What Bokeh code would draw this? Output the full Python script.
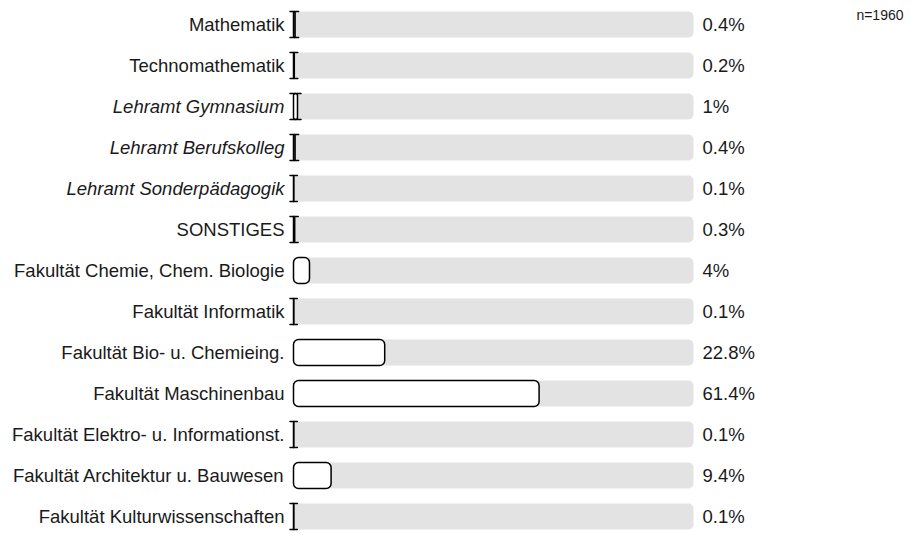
from bokeh.plotting import figure
from bokeh.models import ColumnDataSource, Range1d
from bokeh.core.properties import value
from bokeh.embed import file_html
from bokeh.resources import INLINE

categories = ["Mathematik", "Technomathematik", "Lehramt Gymnasium", "Lehramt Berufskolleg",
              "Lehramt Sonderpädagogik", "SONSTIGES", "Fakultät Chemie, Chem. Biologie",
              "Fakultät Informatik", "Fakultät Bio- u. Chemieing.", "Fakultät Maschinenbau",
              "Fakultät Elektro- u. Informationst.", "Fakultät Architektur u. Bauwesen",
              "Fakultät Kulturwissenschaften"]
values = [0.4, 0.2, 1, 0.4, 0.1, 0.3, 4, 0.1, 22.8, 61.4, 0.1, 9.4, 0.1]
pct_labels = ["0.4%", "0.2%", "1%", "0.4%", "0.1%", "0.3%", "4%", "0.1%", "22.8%", "61.4%",
              "0.1%", "9.4%", "0.1%"]
italic = [False, False, True, True, True, False, False, False, False, False, False, False, False]
n_label = "n=1960"

W, H = 905, 531
PX = 4.0          # pixels per percent
X0 = 293          # pixel where 0% lies
ROW = 41.0        # row spacing in px
Y0 = 24           # pixel center of first row
BAR_PX = 26       # bar thickness in px

idx = list(range(len(categories)))
bh = BAR_PX / ROW
src = ColumnDataSource(dict(
    y=idx, v=values, full=[100] * len(values), cat=categories, pct=pct_labels,
    style=["italic" if it else "normal" for it in italic],
))

# small bars get the little cap strokes at their ends
small = [i for i, v in enumerate(values) if v * PX < 10]
cap_src = ColumnDataSource(dict(
    x0=[-3.5 / PX for i in small] * 2,
    x1=[values[i] + 3.5 / PX for i in small] * 2,
    y=[i - bh / 2 for i in small] + [i + bh / 2 for i in small],
))

p = figure(width=W, height=H, output_backend="svg", toolbar_location=None,
           x_range=Range1d(-X0 / PX, (W - X0) / PX),
           y_range=Range1d((H - Y0) / ROW, -Y0 / ROW),
           min_border=0, min_border_left=0, min_border_right=0,
           min_border_top=0, min_border_bottom=0)
p.axis.visible = False
p.grid.visible = False
p.outline_line_color = None
p.background_fill_color = "white"
p.border_fill_color = "white"

p.hbar(y="y", left=0, right="full", height=bh, source=src,
       fill_color="#e3e3e3", line_color=None, border_radius=5)
p.hbar(y="y", left=0, right="v", height=bh, source=src,
       fill_color="white", line_color="black", line_width=1.5, border_radius=5)
p.segment(x0="x0", y0="y", x1="x1", y1="y", source=cap_src,
          line_color="black", line_width=1.5, line_cap="round")

p.text(x=-9 / PX, y="y", text="cat", source=src, text_align="right", text_baseline="middle",
       text_font=value("Liberation Sans"), text_font_size="18.5px", text_font_style="style",
       text_color="#1a1a1a")
p.text(x=(702 - X0) / PX, y="y", text="pct", source=src, text_align="left",
       text_baseline="middle", text_font=value("Liberation Sans"), text_font_size="18.5px",
       text_color="#1a1a1a")
p.text(x=[(903 - X0) / PX], y=[(14 - Y0) / ROW], text=[n_label], text_align="right",
       text_baseline="middle", text_font=value("Liberation Sans"), text_font_size="14px",
       text_color="#1a1a1a")

open("out.html", "w").write(file_html(p, INLINE))
